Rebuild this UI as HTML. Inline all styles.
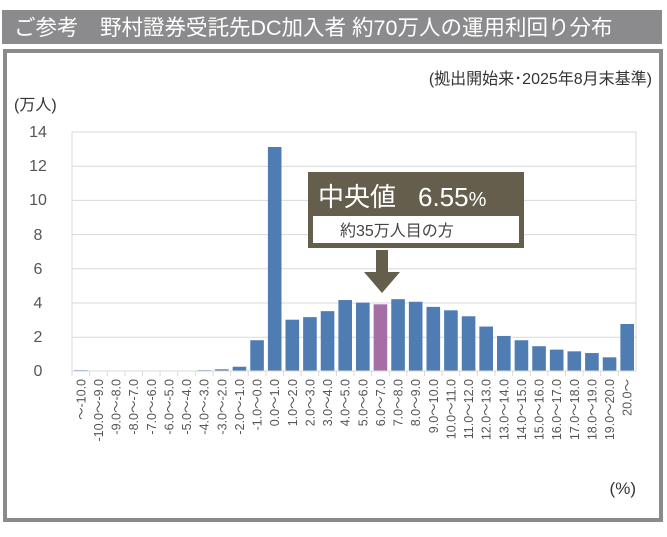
<!DOCTYPE html>
<html><head><meta charset="utf-8"><style>
body{margin:0;background:#fff;width:667px;height:532px;overflow:hidden;font-family:"Liberation Sans","Noto Sans CJK JP",sans-serif}
</style></head><body>
<svg width="667" height="532" xmlns="http://www.w3.org/2000/svg" font-family="Liberation Sans, Noto Sans CJK JP, sans-serif">
<rect x="2" y="10" width="660" height="34" fill="#8b8b8d"/>
<text x="14" y="35" font-size="21.5" fill="#fff">ご参考　野村證券受託先DC加入者 約70万人の運用利回り分布</text>
<rect x="5" y="51" width="656" height="469" fill="#fff" stroke="#8b8b8d" stroke-width="4"/>
<text x="652" y="84" font-size="16" fill="#333" text-anchor="end">(拠出開始来･2025年8月末基準)</text>
<text x="14" y="110" font-size="16" fill="#333">(万人)</text>
<rect x="72" y="132" width="564" height="239" fill="none" stroke="#d9d9d9"/>
<g stroke="#d9d9d9">
<line x1="72" x2="636" y1="166.2" y2="166.2"/><line x1="72" x2="636" y1="200.4" y2="200.4"/>
<line x1="72" x2="636" y1="234.6" y2="234.6"/><line x1="72" x2="636" y1="268.8" y2="268.8"/>
<line x1="72" x2="636" y1="303" y2="303"/><line x1="72" x2="636" y1="337.2" y2="337.2"/>
</g>
<g font-size="16" fill="#555" text-anchor="middle">
<text x="38" y="137">14</text><text x="38" y="171">12</text><text x="38" y="205">10</text>
<text x="38" y="240">8</text><text x="38" y="274">6</text><text x="38" y="308">4</text>
<text x="38" y="342">2</text><text x="38" y="376">0</text>
</g>
<g id="bars"></g>
<g id="labs" font-size="12.5" fill="#555"></g>
<line x1="72" x2="636" y1="371" y2="371" stroke="#d9d9d9"/>
<rect x="308" y="172" width="216" height="76" fill="#655e4c"/>
<text x="318" y="206" font-size="26" fill="#fff">中央値</text>
<text x="418" y="206" font-size="26" fill="#fff">6.55<tspan font-size="20">%</tspan></text>
<rect x="313" y="216" width="206" height="27" fill="#fff"/>
<text x="340" y="236" font-size="16" fill="#444">約35万人目の方</text>
<rect x="376" y="250" width="12" height="23" fill="#655e4c"/>
<polygon points="364,272 400,272 382,293" fill="#655e4c"/>
<text x="636" y="494" font-size="17" fill="#333" text-anchor="end">(%)</text>
</svg>
<script>
var v=[0.05,0,0,0,0,0,0,0.05,0.1,0.25,1.8,13.1,3.0,3.15,3.5,4.15,4.0,3.9,4.2,4.05,3.75,3.55,3.2,2.6,2.05,1.8,1.45,1.25,1.15,1.05,0.8,2.75];
var L=["～-10.0","-10.0～-9.0","-9.0～-8.0","-8.0～-7.0","-7.0～-6.0","-6.0～-5.0","-5.0～-4.0","-4.0～-3.0","-3.0～-2.0","-2.0～-1.0","-1.0～0.0"];
for(var i=0;i<20;i++)L.push(i.toFixed(1)+"～"+(i+1).toFixed(1));L.push("20.0～");
var b="",t="";
for(var i=0;i<32;i++){var cx=72+17.625*(i+0.5),h=v[i]*17.1;
b+='<rect x="'+(cx-6.8)+'" y="'+(371-h)+'" width="13.6" height="'+h+'" fill="'+(i==17?'#a56fa6':'#4f7db3')+'"/>';
b+='<line x1="'+(72+17.625*i)+'" x2="'+(72+17.625*i)+'" y1="371" y2="376" stroke="#d9d9d9"/>';
t+='<text transform="translate('+(cx+4.5)+',379) rotate(-90)" text-anchor="end">'+L[i]+'</text>';}
document.getElementById("bars").innerHTML=b;document.getElementById("labs").innerHTML=t;
</script>
</body></html>
